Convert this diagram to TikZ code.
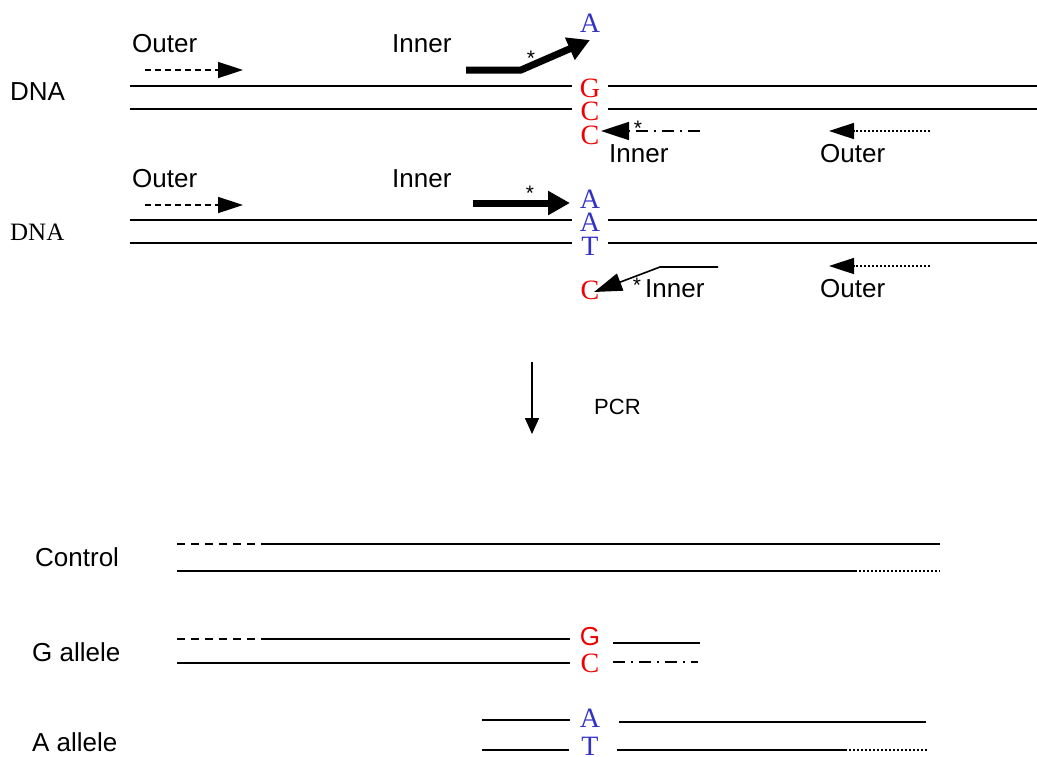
\documentclass[tikz,border=0pt]{standalone}
\usepackage{fontspec}
\setmainfont{Liberation Sans}
\newfontfamily\serifx{Liberation Serif}
\usetikzlibrary{arrows.meta}
\definecolor{nblue}{RGB}{50,50,200}
\definecolor{nred}{RGB}{240,0,0}
\begin{document}
\begin{tikzpicture}[x=1pt,y=-1pt,
  lbl/.style={inner sep=0pt,anchor=base west,font=\fontsize{26}{30}\selectfont},
  base/.style={inner sep=0pt,font=\serifx\fontsize{28}{30}\selectfont},
  star/.style={inner sep=0pt,font=\fontsize{21}{22}\selectfont},
  strand/.style={line width=1.8pt},
  outerf/.style={line width=1.6pt,dash pattern=on 6pt off 4pt,-{Triangle[length=25pt,width=16pt]}},
  outerr/.style={line width=1.6pt,dash pattern=on 2pt off 2pt,-{Triangle[length=25pt,width=16pt]}},
  innerr/.style={line width=1.6pt,dash pattern=on 12pt off 6pt on 2pt off 6pt,-{Triangle[length=28pt,width=18pt]}},
  thick/.style={line width=7pt,-{Triangle[length=22pt,width=23pt]}},
  dsh/.style={line width=1.8pt,dash pattern=on 8pt off 6pt},
  dtt/.style={line width=1.6pt,dash pattern=on 2pt off 2pt},
  dd/.style={line width=1.8pt,dash pattern=on 12pt off 6pt on 2pt off 6pt}]
\useasboundingbox (0,0) rectangle (1037,756);

% ---------- Section 1 ----------
\node[lbl] (dna1) at (10,100) {DNA};
\node[lbl] (o1) at (132,52) {Outer};
\node[lbl] (i1) at (392,52) {Inner};
\coordinate (o1s) at (145,70); \coordinate (o1e) at (243,70);
\draw[outerf] (o1s) -- (o1e);
\coordinate (t1a) at (466,70); \coordinate (t1b) at (521,70); \coordinate (t1c) at (590,40);
\draw[thick] (t1a) -- (t1b) -- (t1c);
\node[star] (s1) at (531,58) {*};
\node[base,text=nblue] (A1) at (590,23) {A};
\node[base,text=nred] (G1) at (590,88) {G};
\node[base,text=nred] (C1) at (590,111) {C};
\node[base,text=nred] (C1b) at (590,135) {C};
\coordinate (l1a) at (130,86); \coordinate (l1b) at (572,86);
\coordinate (l1c) at (608,86); \coordinate (l1d) at (1037,86);
\coordinate (l2a) at (130,109); \coordinate (l2b) at (572,109);
\coordinate (l2c) at (608,109); \coordinate (l2d) at (1037,109);
\draw[strand] (l1a) -- (l1b) (l1c) -- (l1d) (l2a) -- (l2b) (l2c) -- (l2d);
\coordinate (ir1s) at (700,131); \coordinate (ir1e) at (601,131);
\draw[innerr] (ir1s) -- (ir1e);
\node[star] (s2) at (638,128) {*};
\node[lbl] (i2) at (609,162) {Inner};
\coordinate (or1s) at (930,131); \coordinate (or1e) at (829,131);
\draw[outerr] (or1s) -- (or1e);
\node[lbl] (o2) at (820,162) {Outer};

% ---------- Section 2 ----------
\node[inner sep=0pt,anchor=base west,font=\serifx\fontsize{25}{30}\selectfont] (dna2) at (10,240) {DNA};
\node[lbl] (o3) at (132,187) {Outer};
\node[lbl] (i3) at (392,187) {Inner};
\coordinate (o3s) at (145,205); \coordinate (o3e) at (243,205);
\draw[outerf] (o3s) -- (o3e);
\coordinate (t2a) at (473,203); \coordinate (t2b) at (570,203);
\draw[thick] (t2a) -- (t2b);
\node[star] (s3) at (530,193) {*};
\node[base,text=nblue] (A2) at (590,199) {A};
\node[base,text=nblue] (A3) at (590,222) {A};
\node[base,text=nblue] (T2) at (590,246) {T};
\coordinate (m1a) at (130,220); \coordinate (m1b) at (572,220);
\coordinate (m1c) at (608,220); \coordinate (m1d) at (1037,220);
\coordinate (m2a) at (130,243); \coordinate (m2b) at (572,243);
\coordinate (m2c) at (608,243); \coordinate (m2d) at (1037,243);
\draw[strand] (m1a) -- (m1b) (m1c) -- (m1d) (m2a) -- (m2b) (m2c) -- (m2d);
\node[base,text=nred] (C2) at (590,290) {C};
\coordinate (ir2a) at (718,267); \coordinate (ir2b) at (660,267); \coordinate (ir2c) at (594,292);
\draw[line width=1.6pt,-{Triangle[length=28pt,width=18pt]}] (ir2a) -- (ir2b) -- (ir2c);
\node[star] (s4) at (637,285) {*};
\node[lbl] (i4) at (645,297) {Inner};
\coordinate (or2s) at (930,266); \coordinate (or2e) at (829,266);
\draw[outerr] (or2s) -- (or2e);
\node[lbl] (o4) at (820,297) {Outer};

% ---------- PCR ----------
\coordinate (p1) at (532,362); \coordinate (p2) at (532,434);
\draw[line width=1.6pt,-{Triangle[length=16pt,width=14pt]}] (p1) -- (p2);
\node[inner sep=0pt,anchor=west,font=\fontsize{22}{26}\selectfont] (pcr) at (594,407) {PCR};

% ---------- Control ----------
\node[lbl] (ctl) at (35,566) {Control};
\coordinate (c1a) at (177,544); \coordinate (c1b) at (262,544); \coordinate (c1c) at (940,544);
\coordinate (c2a) at (177,571); \coordinate (c2b) at (855,571); \coordinate (c2c) at (940,571);
\draw[dsh] (c1a) -- (c1b);
\draw[strand] (c1b) -- (c1c);
\draw[strand] (c2a) -- (c2b);
\draw[dtt] (c2b) -- (c2c);

% ---------- G allele ----------
\node[lbl] (gal) at (32,661) {G allele};
\coordinate (g1a) at (177,639); \coordinate (g1b) at (262,639); \coordinate (g1c) at (570,639);
\coordinate (g2a) at (177,663); \coordinate (g2b) at (570,663);
\draw[dsh] (g1a) -- (g1b);
\draw[strand] (g1b) -- (g1c);
\draw[strand] (g2a) -- (g2b);
\node[inner sep=0pt,text=nred,font=\fontsize{26}{30}\selectfont] (G3) at (590,637) {G};
\node[base,text=nred] (C3) at (590,663) {C};
\coordinate (g3a) at (613,643); \coordinate (g3b) at (700,643);
\coordinate (g4a) at (613,662); \coordinate (g4b) at (698,662);
\draw[strand] (g3a) -- (g3b);
\draw[dd] (g4a) -- (g4b);

% ---------- A allele ----------
\node[lbl] (aal) at (32,751) {A allele};
\node[base,text=nblue] (A4) at (590,718) {A};
\node[base,text=nblue] (T4) at (590,746) {T};
\coordinate (a1a) at (482,720); \coordinate (a1b) at (570,720);
\coordinate (a2a) at (482,750); \coordinate (a2b) at (569,750);
\coordinate (a3a) at (619,722); \coordinate (a3b) at (926,722);
\coordinate (a4a) at (617,750); \coordinate (a4b) at (845,750); \coordinate (a4c) at (928,750);
\draw[strand] (a1a) -- (a1b) (a2a) -- (a2b) (a3a) -- (a3b) (a4a) -- (a4b);
\draw[dtt] (a4b) -- (a4c);
\end{tikzpicture}
\end{document}
